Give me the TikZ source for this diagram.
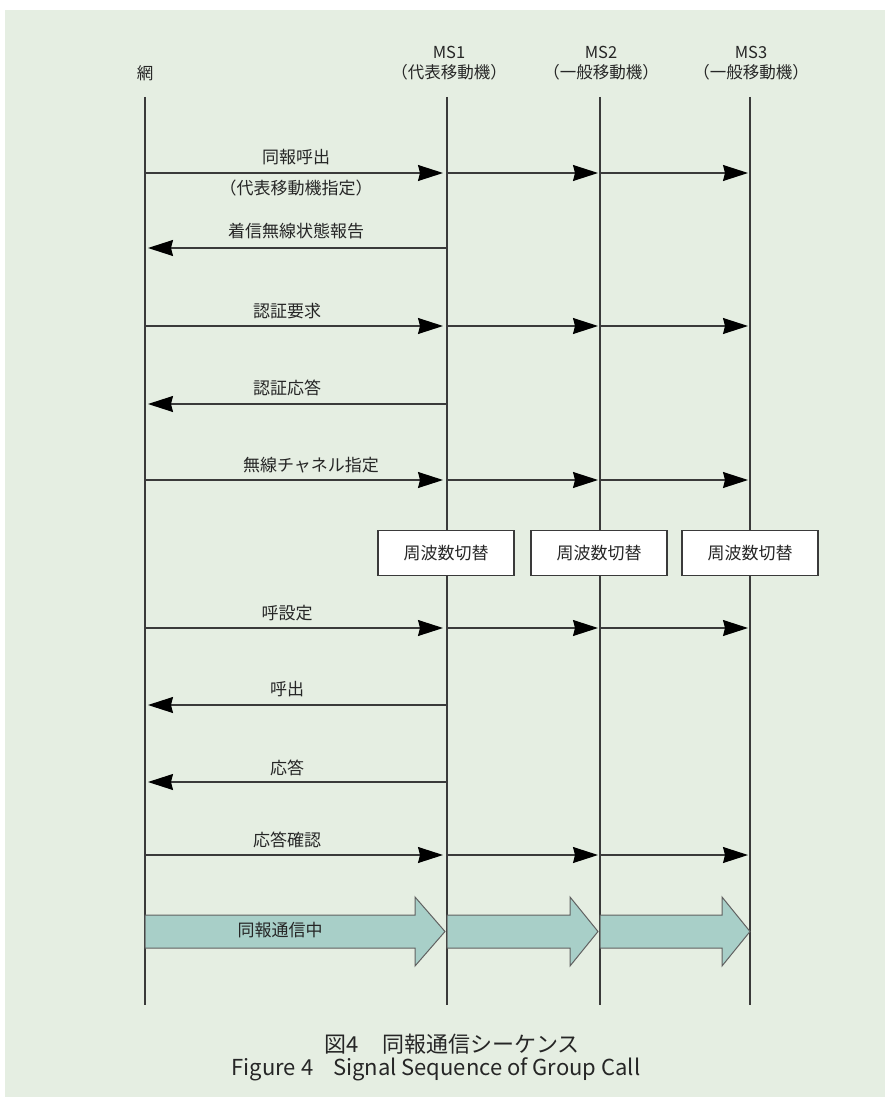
\documentclass[tikz,border=0pt]{standalone}
\usepackage{fontspec}
\setmainfont{Noto Sans CJK JP}
\usetikzlibrary{arrows.meta}
\definecolor{bgc}{HTML}{E5EEE2}
\definecolor{linec}{HTML}{3A3A3A}
\definecolor{blkc}{HTML}{A8CFC8}
\definecolor{txtc}{HTML}{262626}
\begin{document}
\begin{tikzpicture}[x=1pt,y=-1pt,
  lbl/.style={text=txtc,font=\fontsize{17}{19}\selectfont,inner sep=0pt},
  hdr/.style={text=txtc,font=\fontsize{16.5}{20}\selectfont,inner sep=0pt,align=center},
  life/.style={draw=linec,line width=1.2pt},
  msg/.style={draw=linec,line width=1.2pt,-{Stealth[length=25pt,width=16pt,inset=2pt,fill=black,color=black]}},
  swbox/.style={draw=linec,fill=white,line width=1.1pt,minimum width=136pt,minimum height=45pt,inner sep=0pt,text=txtc,font=\fontsize{17}{19}\selectfont},
  blk/.style={draw=linec!80,fill=blkc,line width=1pt},
  captxt/.style={text=txtc,inner sep=0pt,font=\fontsize{22}{26}\selectfont}]
\useasboundingbox (0,0) rectangle (885,1099);
\fill[white] (0,0) rectangle (885,1099);
\fill[bgc] (5,10) rectangle (885,1097);

% headers
\node[hdr] (hN) at (145,73) {網};
\node[hdr] (h1) at (449,63) {MS1\\（代表移動機）};
\node[hdr] (h2) at (601,63) {MS2\\（一般移動機）};
\node[hdr] (h3) at (751,63) {MS3\\（一般移動機）};

% lifelines
\foreach \n/\x in {N/145,A/447,B/600,C/750}{
  \coordinate (\n top) at (\x,97);
  \coordinate (\n bot) at (\x,1005);
  \draw[life] (\n top) -- (\n bot);
}

% message coordinates
\foreach \k/\y in {1/173,2/248,3/326,4/404,5/480,7/628,8/705,9/782,10/855}{
  \coordinate (n\k) at (145,\y);
  \coordinate (a\k) at (447,\y);
  \coordinate (b\k) at (600,\y);
  \coordinate (c\k) at (750,\y);
}

% broadcast messages (to MS1, MS2, MS3)
\foreach \k in {1,3,5,7,10}{
  \draw[msg,shorten >=4pt] (n\k) -- (a\k);
  \draw[msg,shorten >=2pt] (a\k) -- (b\k);
  \draw[msg,shorten >=2pt] (b\k) -- (c\k);
}
% replies from MS1
\foreach \k in {2,4,8,9}{
  \draw[msg,shorten >=3pt] (a\k) -- (n\k);
}

% labels
\node[lbl] (m1) at (296,157) {同報呼出};
\node[lbl] (m1b) at (296,188) {（代表移動機指定）};
\node[lbl] (m2) at (296,231) {着信無線状態報告};
\node[lbl] (m3) at (287,311) {認証要求};
\node[lbl] (m4) at (287,388) {認証応答};
\node[lbl] (m5) at (311,465) {無線チャネル指定};
\node[lbl] (m7) at (287,613) {呼設定};
\node[lbl] (m8) at (287,689) {呼出};
\node[lbl] (m9) at (287,768) {応答};
\node[lbl] (m10) at (287,840) {応答確認};

% frequency switch boxes
\node[swbox] (f1) at (446,553) {周波数切替};
\node[swbox] (f2) at (599,553) {周波数切替};
\node[swbox] (f3) at (750,553) {周波数切替};

% group communication block arrows
\draw[blk] (145,915) -- (415,915) -- (415,897) -- (445,931.5) -- (415,966) -- (415,948) -- (145,948) -- cycle;
\draw[blk] (447,915) -- (570,915) -- (570,897) -- (598,931.5) -- (570,966) -- (570,948) -- (447,948) -- cycle;
\draw[blk] (600,915) -- (722,915) -- (722,897) -- (750,931.5) -- (722,966) -- (722,948) -- (600,948) -- cycle;
\node[lbl] (g) at (280,930) {同報通信中};

% caption
\node[captxt] (c1) at (452,1044) {図4\hspace{1.1em}同報通信シーケンス};
\node[captxt] (c2) at (436,1069) {Figure 4\hspace{0.9em}Signal Sequence of Group Call};
\end{tikzpicture}
\end{document}
